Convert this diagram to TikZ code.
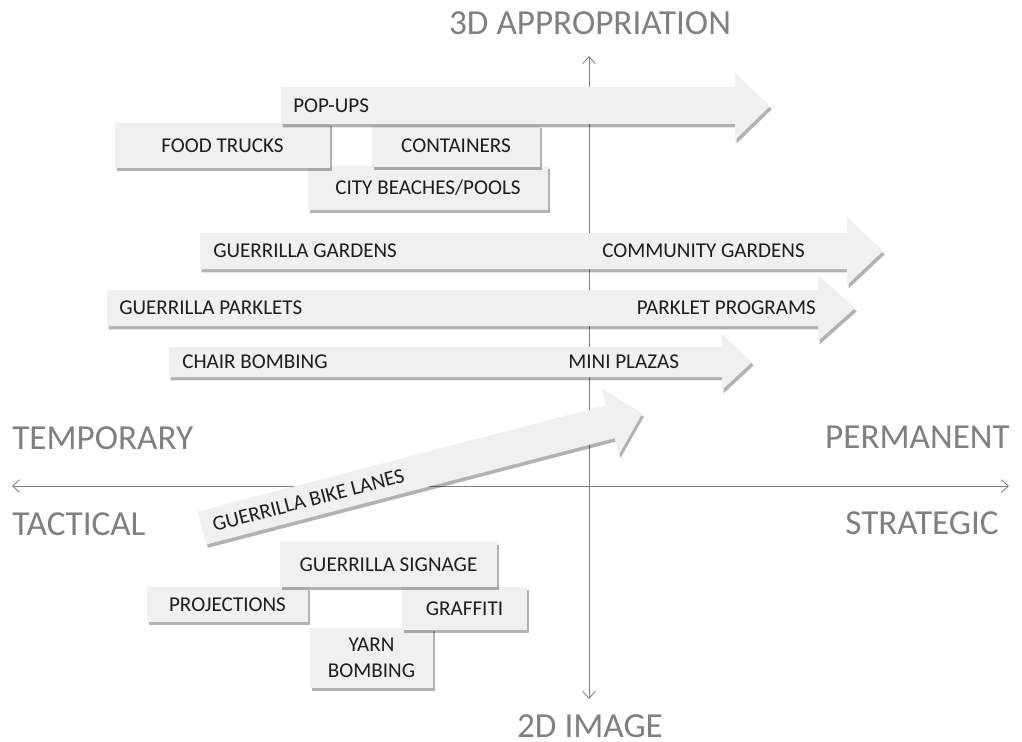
\documentclass[tikz,border=0pt]{standalone}
\usepackage{fontspec}
\setmainfont{Carlito}
\usetikzlibrary{arrows.meta,shadows}

\definecolor{boxgray}{HTML}{F0F0F0}
\definecolor{axisgray}{HTML}{808080}
\definecolor{inkgray}{HTML}{1E1E1E}

\tikzset{
  band/.style={fill=boxgray, drop shadow={shadow xshift=1.2pt, shadow yshift=-2.4pt, fill=black, opacity=0.3}},
  tag/.style={band, inner sep=0pt, text=inkgray, font=\fontsize{15}{18.4}\selectfont, align=center},
  word/.style={inner sep=0pt, text=inkgray, font=\fontsize{15}{18.4}\selectfont},
  axisline/.style={draw=axisgray, line width=0.6pt, {Straight Barb[length=5pt,width=9pt]}-{Straight Barb[length=5pt,width=9pt]}},
  pole/.style={inner sep=0pt, text=axisgray, font=\fontsize{25}{30}\selectfont},
}

\begin{document}
\begin{tikzpicture}[x=0.025cm, y=-0.025cm]
  \useasboundingbox (0,0) rectangle (1022,742);

  % the two axes
  \coordinate (xleft) at (12,486);
  \coordinate (xright) at (1009,486);
  \coordinate (ytop) at (589,56);
  \coordinate (ybot) at (589,699);
  \draw[axisline] (xleft) -- (xright);
  \draw[axisline] (ybot) -- (ytop);

  \node[pole] (appr) at (590,23) {3D APPROPRIATION};
  \node[pole] (image) at (590,726) {2D IMAGE};
  \node[pole, anchor=west] (temp) at (12,438) {TEMPORARY};
  \node[pole, anchor=west] (tact) at (12,524) {TACTICAL};
  \node[pole, anchor=east] (perm) at (1010,437) {PERMANENT};
  \node[pole, anchor=east] (strat) at (999,523) {STRATEGIC};

  % upper cluster
  \node[tag, minimum width=6cm, minimum height=1.1cm] (beach) at (428,188) {CITY BEACHES/POOLS};
  \node[tag, minimum width=5.375cm, minimum height=1.125cm] (food) at (222.5,145.5) {FOOD TRUCKS};
  \node[tag, minimum width=4.2cm, minimum height=1.05cm] (cont) at (456,146) {CONTAINERS};
  \path[band] (281,87) -- (735,87) -- (735,73) -- (770,106) -- (735,140) -- (735,124) -- (281,124) -- cycle;
  \node[word, anchor=west] (popups) at (293,106) {POP-UPS};

  % long arrows
  \path[band] (200,233) -- (847,233) -- (847,217) -- (883,251) -- (847,285) -- (847,269) -- (200,269) -- cycle;
  \node[word, anchor=west] (ggard) at (213,251) {GUERRILLA GARDENS};
  \node[word, anchor=east] (cgard) at (805,251) {COMMUNITY GARDENS};

  \path[band] (107,290) -- (818,290) -- (818,275) -- (855,308) -- (818,341) -- (818,326) -- (107,326) -- cycle;
  \node[word, anchor=west] (gpark) at (119,308) {GUERRILLA PARKLETS};
  \node[word, anchor=east] (ppark) at (816,308) {PARKLET PROGRAMS};

  \path[band] (169,347) -- (722,347) -- (722,334) -- (752,362) -- (722,390) -- (722,377) -- (169,377) -- cycle;
  \node[word, anchor=west] (chair) at (182,362) {CHAIR BOMBING};
  \node[word, anchor=west] (plaza) at (568,362) {MINI PLAZAS};

  % tilted arrow
  \begin{scope}[shift={(202,528)}, rotate=14.6]
    \path[band] (0,-17) -- (422,-17) -- (422,-34) -- (455,0) -- (422,34) -- (422,17) -- (0,17) -- cycle;
    \node[word, anchor=west, rotate=14.6] (bike) at (11,0) {GUERRILLA BIKE LANES};
  \end{scope}

  % lower cluster
  \node[tag, minimum width=3.075cm, minimum height=1.5cm] (yarn) at (371.5,658) {YARN\\BOMBING};
  \node[tag, minimum width=4.025cm, minimum height=0.875cm] (proj) at (227.5,604.5) {PROJECTIONS};
  \node[tag, minimum width=3.125cm, minimum height=1.075cm] (graf) at (464.5,608.5) {GRAFFITI};
  \node[tag, minimum width=5.425cm, minimum height=1.125cm] (sign) at (388.5,564.5) {GUERRILLA SIGNAGE};
\end{tikzpicture}
\end{document}
